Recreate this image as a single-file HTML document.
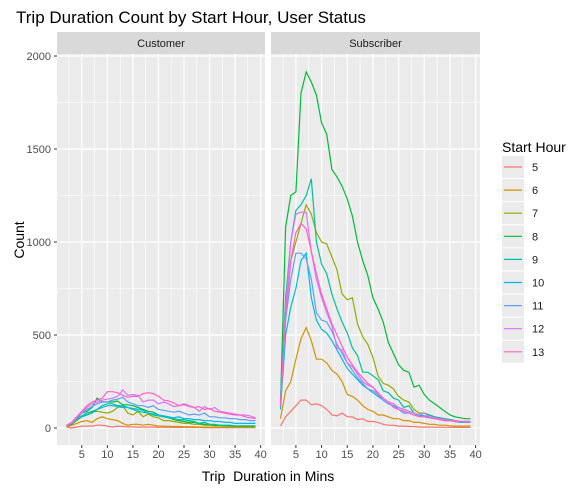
<!DOCTYPE html>
<html><head><meta charset="utf-8"><style>
body{margin:0;background:#fff;}
svg{display:block;font-family:"Liberation Sans",Arial,sans-serif;}
</style></head><body>
<svg id="chart" width="583" height="488">
<text x="16" y="23" font-size="17" fill="#000">Trip Duration Count by Start Hour, User Status</text>
<g id="root"></g>
</svg>
<script>
const hours = ["5","6","7","8","9","10","11","12","13"];
const colors = ["#F8766D","#D39200","#93AA00","#00BA38","#00C19F","#00B9E3","#619CFF","#DB72FB","#FF61C3"];
const durations = [2,3,4,5,6,7,8,9,10,11,12,13,14,15,16,17,18,19,20,21,22,23,24,25,26,27,28,29,30,31,32,33,34,35,36,37,38,39];
const yTicks = [0,500,1000,1500,2000];
const xTicks = [5,10,15,20,25,30,35,40];
const facets = ["Customer","Subscriber"];
const cust5 = [5,0,5,10,10,10,15,15,10,5,10,8,6,6,5,5,5,5,4,4,4,3,3,3,3,3,3,2,2,2,2,2,2,2,2,2,2,2];
const cust6 = [5,15,25,35,40,30,50,60,50,45,40,25,15,20,20,15,20,15,10,10,9,8,8,7,6,6,5,5,5,4,4,4,3,3,3,3,3,3];
const cust7 = [10,20,40,60,80,85,90,85,80,90,110,120,80,70,90,60,75,60,55,40,40,35,30,25,25,20,20,15,15,12,12,10,10,10,8,8,8,8];
const cust8 = [10,20,50,80,90,110,160,140,140,140,145,125,125,120,110,100,90,85,70,60,55,45,40,35,30,30,25,20,20,15,15,12,12,10,10,10,10,10];
const cust9 = [10,25,45,60,70,80,100,120,130,130,120,120,110,100,90,85,80,70,65,60,55,50,45,45,40,35,25,30,20,20,15,15,15,12,12,12,12,12];
const cust10 = [10,25,45,65,80,90,100,110,120,120,115,110,110,105,100,95,80,75,70,65,60,55,60,50,50,45,45,40,40,35,35,30,30,25,25,25,25,25];
const cust11 = [10,30,60,80,100,115,130,140,140,150,155,165,140,130,120,120,110,120,100,95,90,85,90,80,70,75,70,80,60,60,55,55,50,50,45,45,40,40];
const cust12 = [10,25,55,85,110,130,140,150,155,160,170,205,175,180,175,140,150,150,130,140,130,115,120,125,115,110,90,115,100,110,90,85,80,75,70,70,65,55];
const cust13 = [15,30,60,90,120,140,150,160,195,195,190,175,165,170,170,185,190,185,170,150,145,135,120,130,120,110,115,100,105,90,85,80,75,70,70,60,55,50];
const sub5 = [10,60,90,120,150,150,125,130,120,100,70,65,80,60,60,45,50,35,35,30,20,15,15,10,10,8,8,5,5,5,5,4,4,4,3,3,3,3];
const sub6 = [50,200,250,370,480,540,470,370,370,350,310,290,250,180,170,150,120,100,90,70,70,60,50,50,40,40,30,30,25,20,20,15,15,12,10,10,10,10];
const sub7 = [120,600,900,1000,1100,1200,1150,1050,1000,990,920,850,720,690,700,560,490,450,380,280,240,230,210,170,150,140,100,80,80,70,60,55,50,45,40,35,35,30];
const sub8 = [130,1080,1250,1270,1800,1915,1860,1790,1640,1580,1390,1350,1300,1230,1140,1000,900,820,700,640,570,460,400,340,310,300,220,230,180,150,130,110,90,70,60,55,50,50];
const sub9 = [150,700,1000,1170,1200,1250,1340,1000,880,830,720,640,570,510,430,390,300,300,280,260,200,190,160,150,110,120,80,70,80,70,60,55,50,45,40,35,35,35];
const sub10 = [100,500,650,750,900,940,700,580,530,510,470,420,370,320,290,260,230,210,190,170,150,130,120,110,100,90,80,70,65,60,55,50,45,40,35,30,30,30];
const sub11 = [120,580,800,940,940,910,800,620,580,570,520,450,400,350,310,270,240,210,200,180,150,130,120,100,80,80,70,65,60,55,50,45,40,40,35,35,30,30];
const sub12 = [120,650,1000,1150,1160,1160,950,800,700,620,550,430,420,350,330,290,250,230,220,190,160,140,130,110,100,90,80,70,80,60,55,50,45,40,40,35,35,35];
const sub13 = [120,600,900,1050,1100,1070,950,830,720,640,560,500,440,380,340,300,270,240,220,180,160,140,110,100,90,80,70,60,60,55,50,45,40,40,35,35,35,35];
const custSeries = [cust5,cust6,cust7,cust8,cust9,cust10,cust11,cust12,cust13];
const subSeries = [sub5,sub6,sub7,sub8,sub9,sub10,sub11,sub12,sub13];

const NS="http://www.w3.org/2000/svg";
const root=document.getElementById('root');
function mk(tag,attrs,parent){const e=document.createElementNS(NS,tag);for(const k in attrs)e.setAttribute(k,attrs[k]);(parent||root).appendChild(e);return e;}
const pTop=54,pBot=445;
const yS=v=>428-(v/2000)*372;
const panels=[{x0:57,x1:265},{x0:271,x1:480}];
const xmin=0.15,xmax=40.85;
panels.forEach((p,pi)=>{
  const xS=v=>p.x0+(v-xmin)/(xmax-xmin)*(p.x1-p.x0);
  const g=mk('g',{});
  
  
  mk('rect',{x:p.x0,y:32,width:p.x1-p.x0,height:22,fill:'#D9D9D9'},g);
  const st=mk('text',{x:(p.x0+p.x1)/2,y:47,'font-size':11,'text-anchor':'middle',fill:'#1A1A1A'},g);
  st.textContent=facets[pi];
  
  
  mk('rect',{x:p.x0,y:pTop,width:p.x1-p.x0,height:pBot-pTop,fill:'#EBEBEB'},g);
  for(let i=0;i<yTicks.length-1;i++){const m=(yTicks[i]+yTicks[i+1])/2;mk('line',{x1:p.x0,x2:p.x1,y1:yS(m),y2:yS(m),stroke:'#fff','stroke-width':0.6},g);}
  for(let i=0;i<xTicks.length;i++){const m=xTicks[i]-2.5;mk('line',{y1:pTop,y2:pBot,x1:xS(m),x2:xS(m),stroke:'#fff','stroke-width':0.6},g);}
  yTicks.forEach(t=>mk('line',{x1:p.x0,x2:p.x1,y1:yS(t),y2:yS(t),stroke:'#fff','stroke-width':1.2},g));
  xTicks.forEach(t=>{
    mk('line',{y1:pTop,y2:pBot,x1:xS(t),x2:xS(t),stroke:'#fff','stroke-width':1.2},g);
    mk('line',{y1:pBot,y2:pBot+3,x1:xS(t),x2:xS(t),stroke:'#333','stroke-width':1},g);
    const tl=mk('text',{x:xS(t),y:pBot+13,'font-size':11,'text-anchor':'middle',fill:'#4D4D4D'},g);
    tl.textContent=t;
    
    
  });
  const series=pi===0?custSeries:subSeries;
  series.forEach((s,si)=>{
    const d=s.map((v,i)=>(i?'L':'M')+xS(durations[i]).toFixed(1)+','+yS(v).toFixed(1)).join('');
    const pth=mk('path',{d:d,fill:'none',stroke:colors[si],'stroke-width':1.2},g);
    
    
  });
});
yTicks.forEach(t=>{
  mk('line',{x1:54,x2:57,y1:yS(t),y2:yS(t),stroke:'#333'});
  const tl=mk('text',{x:51,y:yS(t)+4,'font-size':11,'text-anchor':'end',fill:'#4D4D4D'});
  tl.textContent=t;
  
  
});
const yt=mk('text',{x:0,y:0,'font-size':14,'text-anchor':'middle',transform:'translate(24,240) rotate(-90)'});
yt.textContent='Count';


const xt=mk('text',{x:268,y:481,'font-size':14,'text-anchor':'middle'});
xt.textContent='Trip\u00a0 Duration in Mins';


const lt=mk('text',{x:502,y:152,'font-size':14});
lt.textContent='Start Hour';


hours.forEach((h,i)=>{
  const y=156+i*23.1;
  const lg=mk('g',{});
  
  
  mk('rect',{x:502,y:y,width:22,height:22,fill:'#EBEBEB'},lg);
  mk('line',{x1:504,x2:522,y1:y+11,y2:y+11,stroke:colors[i],'stroke-width':1.2},lg);
  const t=mk('text',{x:532,y:y+15,'font-size':11,fill:'#1A1A1A'},lg);
  t.textContent=h;
});
</script>
</body></html>
